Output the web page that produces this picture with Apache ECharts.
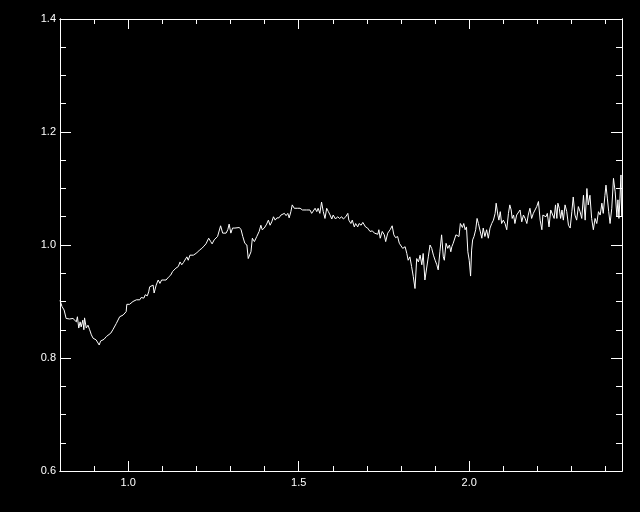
<!DOCTYPE html>
<html>
<head>
<meta charset="utf-8">
<script src="https://cdn.jsdelivr.net/npm/echarts@6/dist/echarts.min.js"></script>
<style>
html,body{margin:0;padding:0;background:#000;}
#chart{width:640px;height:512px;}
</style>
</head>
<body>
<div id="chart"></div>
<script>
// Wavelength (x) values
var wave = [
0.800,0.806,0.812,0.818,0.823,0.828,0.833,0.838,0.843,0.848,0.851,0.855,0.859,0.862,0.867,0.870,0.872,0.877,0.882,0.887,
0.892,0.897,0.902,0.906,0.911,0.915,0.919,0.923,0.929,0.936,0.941,0.949,0.955,0.960,0.965,0.970,0.975,0.980,0.985,0.994,
0.996,1.004,1.009,1.014,1.024,1.029,1.034,1.038,1.046,1.050,1.056,1.060,1.063,1.068,1.073,1.076,1.082,1.088,1.093,1.098,
1.103,1.111,1.118,1.125,1.130,1.134,1.140,1.147,1.152,1.157,1.162,1.167,1.172,1.176,1.181,1.186,1.191,1.196,1.201,1.209,
1.216,1.222,1.228,1.232,1.236,1.242,1.246,1.252,1.257,1.262,1.267,1.271,1.277,1.281,1.287,1.292,1.296,1.301,1.306,1.313,
1.318,1.326,1.331,1.336,1.342,1.348,1.352,1.356,1.360,1.364,1.370,1.377,1.384,1.389,1.393,1.399,1.406,1.411,1.416,1.421,
1.426,1.431,1.436,1.442,1.448,1.453,1.458,1.463,1.468,1.472,1.477,1.481,1.487,1.491,1.497,1.504,1.511,1.516,1.523,1.528,
1.533,1.538,1.543,1.548,1.553,1.557,1.562,1.567,1.572,1.577,1.582,1.587,1.592,1.597,1.601,1.608,1.614,1.620,1.626,1.631,
1.638,1.644,1.647,1.653,1.657,1.663,1.667,1.673,1.677,1.683,1.688,1.692,1.696,1.702,1.709,1.716,1.722,1.726,1.732,1.735,
1.739,1.745,1.751,1.755,1.761,1.768,1.774,1.779,1.784,1.790,1.795,1.800,1.805,1.812,1.817,1.821,1.826,1.831,1.836,1.841,
1.846,1.851,1.856,1.861,1.865,1.870,1.875,1.880,1.885,1.890,1.895,1.900,1.905,1.909,1.914,1.919,1.924,1.927,1.932,1.937,
1.942,1.946,1.949,1.953,1.958,1.961,1.966,1.970,1.974,1.980,1.984,1.988,1.992,1.996,2.000,2.004,2.007,2.010,2.014,2.019,
2.023,2.027,2.032,2.037,2.041,2.046,2.051,2.056,2.061,2.066,2.071,2.076,2.079,2.084,2.087,2.091,2.095,2.100,2.105,2.110,
2.115,2.119,2.123,2.126,2.130,2.134,2.139,2.144,2.149,2.154,2.159,2.164,2.169,2.173,2.178,2.183,2.188,2.193,2.198,2.203,
2.208,2.213,2.216,2.219,2.225,2.229,2.234,2.239,2.244,2.249,2.253,2.257,2.260,2.264,2.268,2.272,2.276,2.281,2.286,2.291,
2.296,2.301,2.305,2.310,2.315,2.320,2.325,2.330,2.335,2.340,2.345,2.349,2.354,2.359,2.364,2.369,2.374,2.379,2.384,2.389,
2.393,2.398,2.401,2.405,2.409,2.413,2.418,2.423,2.428,2.433,2.436,2.439,2.442,2.445,2.447
];
// Normalized flux (y) values
var flux = [
0.902,0.891,0.885,0.870,0.873,0.869,0.871,0.870,0.871,0.864,0.873,0.853,0.864,0.855,0.867,0.850,0.871,0.853,0.858,0.850,
0.841,0.835,0.836,0.832,0.829,0.823,0.830,0.832,0.833,0.838,0.841,0.844,0.850,0.848,0.861,0.864,0.873,0.873,0.876,0.882,
0.895,0.895,0.897,0.900,0.903,0.904,0.903,0.907,0.906,0.912,0.910,0.917,0.926,0.923,0.929,0.915,0.929,0.938,0.932,0.938,
0.935,0.938,0.943,0.947,0.953,0.953,0.959,0.962,0.970,0.965,0.969,0.970,0.979,0.973,0.982,0.985,0.982,0.985,0.986,0.991,
0.994,0.998,1.002,1.004,1.012,1.006,1.002,1.009,1.009,1.015,1.018,1.034,1.021,1.018,1.021,1.027,1.037,1.021,1.030,1.030,
1.031,1.031,1.027,1.015,1.003,1.000,0.976,0.973,0.988,1.012,1.006,1.015,1.024,1.035,1.027,1.030,1.037,1.044,1.035,1.041,
1.050,1.044,1.048,1.048,1.053,1.050,1.056,1.052,1.056,1.048,1.059,1.071,1.065,1.068,1.065,1.065,1.062,1.060,1.062,1.060,
1.062,1.056,1.053,1.065,1.059,1.065,1.056,1.076,1.059,1.047,1.065,1.059,1.053,1.046,1.053,1.046,1.050,1.047,1.050,1.046,
1.050,1.056,1.044,1.038,1.044,1.032,1.038,1.032,1.038,1.035,1.040,1.042,1.032,1.030,1.024,1.025,1.021,1.024,1.019,1.027,
1.012,1.024,1.018,1.006,1.021,1.027,1.034,1.018,1.013,1.015,1.003,1.000,0.994,0.997,0.985,0.973,0.979,0.962,0.944,0.923,
0.976,0.970,0.982,0.965,0.985,0.938,0.940,0.979,1.000,0.994,0.982,0.973,0.965,0.956,0.988,1.018,0.979,0.973,1.003,0.994,
1.000,0.988,0.997,1.003,1.000,1.018,1.021,1.015,1.038,1.031,1.038,1.027,1.032,0.988,0.973,0.945,0.991,1.009,1.015,1.027,
1.047,1.038,1.041,1.012,1.030,1.015,1.027,1.012,1.030,1.038,1.044,1.056,1.074,1.053,1.044,1.059,1.038,1.044,1.038,1.027,
1.056,1.071,1.062,1.047,1.053,1.038,1.053,1.053,1.062,1.041,1.053,1.047,1.038,1.053,1.065,1.047,1.056,1.053,1.068,1.077,
1.044,1.027,1.053,1.056,1.050,1.056,1.032,1.062,1.059,1.047,1.071,1.047,1.074,1.065,1.047,1.062,1.044,1.071,1.059,1.035,
1.030,1.059,1.085,1.053,1.044,1.068,1.059,1.047,1.088,1.044,1.100,1.071,1.088,1.047,1.027,1.047,1.038,1.059,1.053,1.074,
1.056,1.088,1.106,1.083,1.059,1.038,1.065,1.118,1.094,1.050,1.080,1.047,1.083,1.124,1.050
];
// Axis ticks and labels
var xMajor = [1.0, 1.5, 2.0];
var xMinor = [0.9, 1.1, 1.2, 1.3, 1.4, 1.6, 1.7, 1.8, 1.9, 2.1, 2.2, 2.3, 2.4];
var yMajor = [0.6, 0.8, 1.0, 1.2, 1.4];
var yMinor = [0.65, 0.7, 0.75, 0.85, 0.9, 0.95, 1.05, 1.1, 1.15, 1.25, 1.3, 1.35];

var XMIN = 0.8, XMAX = 2.448, YMIN = 0.6, YMAX = 1.4;
var FG = '#ffffff';
var labelStyle = {color: FG, fontSize: 11, fontFamily: 'Liberation Sans, Arial, sans-serif'};

function xAx(pos, ticks, len, labels) {
  return {
    type: 'value', min: XMIN, max: XMAX, position: pos,
    axisLine: {show: true, onZero: false, lineStyle: {color: FG, width: 1}},
    axisTick: {show: true, inside: true, length: len, customValues: ticks, lineStyle: {color: FG, width: 1}},
    axisLabel: labels ? Object.assign({show: true, margin: 6, customValues: labels,
      formatter: function (v) { return Number(v).toFixed(1); }}, labelStyle) : {show: false},
    splitLine: {show: false}
  };
}
function yAx(pos, ticks, len, labels) {
  return {
    type: 'value', min: YMIN, max: YMAX, position: pos,
    axisLine: {show: true, onZero: false, lineStyle: {color: FG, width: 1}},
    axisTick: {show: true, inside: true, length: len, customValues: ticks, lineStyle: {color: FG, width: 1}},
    axisLabel: labels ? Object.assign({show: true, margin: 4, customValues: labels,
      formatter: function (v) { return Number(v).toFixed(1); }}, labelStyle) : {show: false},
    splitLine: {show: false}
  };
}

var pts = wave.map(function (w, i) { return [w, flux[i]]; });

var chart = echarts.init(document.getElementById('chart'), null, {renderer: 'canvas'});
chart.setOption({
  backgroundColor: '#000000',
  animation: false,
  grid: {left: 60, right: 18, top: 19, bottom: 41, containLabel: false},
  xAxis: [
    xAx('bottom', xMajor, 10, xMajor),
    xAx('bottom', xMinor, 5, null),
    xAx('top', xMajor, 10, null),
    xAx('top', xMinor, 5, null)
  ],
  yAxis: [
    yAx('left', yMajor, 11, yMajor),
    yAx('left', yMinor, 6, null),
    yAx('right', yMajor, 11, null),
    yAx('right', yMinor, 6, null)
  ],
  series: [{
    type: 'line',
    xAxisIndex: 0, yAxisIndex: 0,
    data: pts,
    showSymbol: false,
    symbol: 'none',
    clip: true,
    lineStyle: {color: FG, width: 1},
    emphasis: {disabled: true}
  }]
});
</script>
</body>
</html>
